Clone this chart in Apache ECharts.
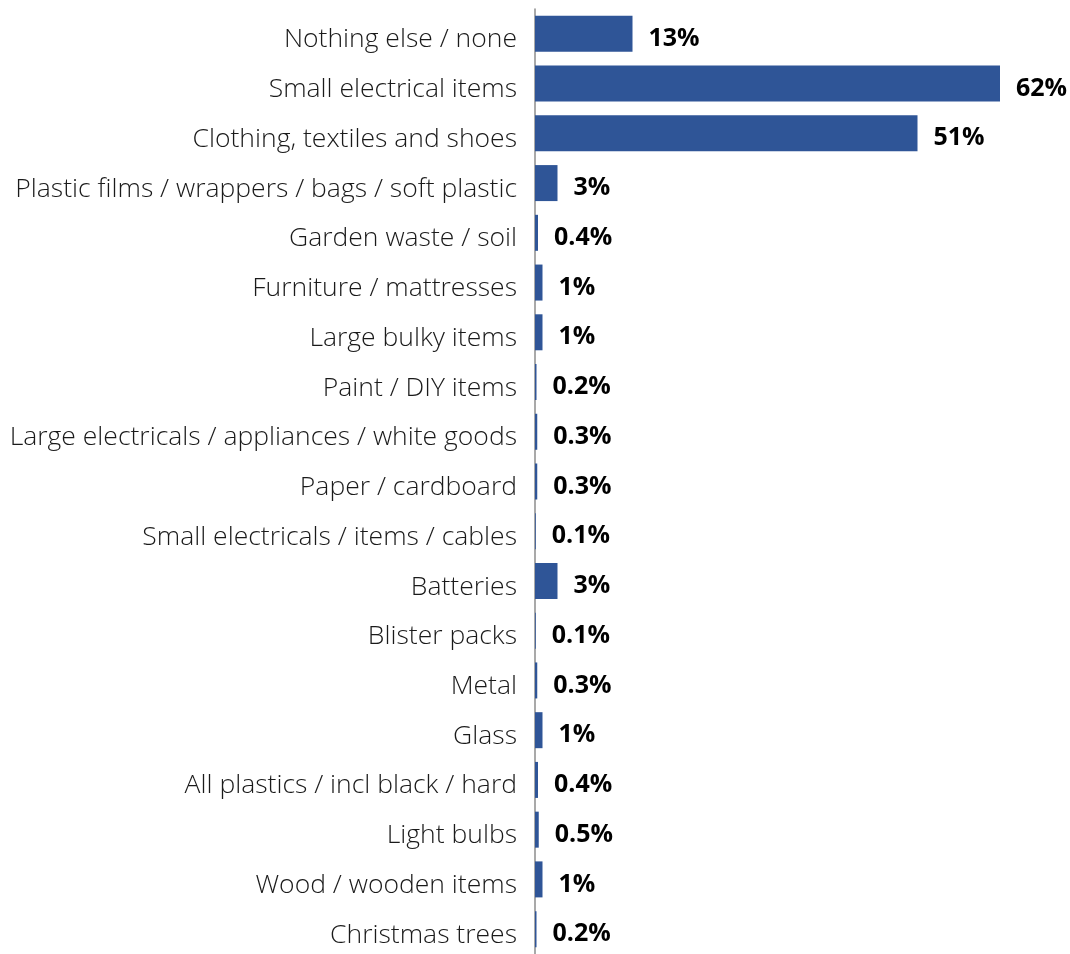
<!DOCTYPE html>
<html>
<head>
<meta charset="utf-8">
<script src="https://cdn.jsdelivr.net/npm/echarts@6/dist/echarts.min.js"></script>
<style>html,body{margin:0;padding:0;background:#fff;}#c{width:1070px;height:954px;}</style>
</head>
<body>
<div id="c"></div>
<script>
const categories = [
  "Nothing else / none",
  "Small electrical items",
  "Clothing, textiles and shoes",
  "Plastic films / wrappers / bags / soft plastic",
  "Garden waste / soil",
  "Furniture / mattresses",
  "Large bulky items",
  "Paint / DIY items",
  "Large electricals / appliances / white goods",
  "Paper / cardboard",
  "Small electricals / items / cables",
  "Batteries",
  "Blister packs",
  "Metal",
  "Glass",
  "All plastics / incl black / hard",
  "Light bulbs",
  "Wood / wooden items",
  "Christmas trees"
];
const values = [13, 62, 51, 3, 0.4, 1, 1, 0.2, 0.3, 0.3, 0.1, 3, 0.1, 0.3, 1, 0.4, 0.5, 1, 0.2];

const chart = echarts.init(document.getElementById('c'), null, {renderer: 'canvas'});
chart.setOption({
  animation: false,
  grid: {left: 535, right: 10, top: 9, height: 952, containLabel: false},
  xAxis: {
    type: 'value', min: 0, max: 70,
    show: false
  },
  yAxis: {
    type: 'category', data: categories, inverse: true,
    axisLine: {show: true, lineStyle: {color: '#8c8c8c', width: 1.5}},
    axisTick: {show: false},
    axisLabel: {
      margin: 18, color: '#1a1a1a', fontSize: 26.5, fontWeight: 300,
      fontFamily: 'Open Sans', verticalAlign: 'top', lineHeight: 12
    }
  },
  series: [{
    type: 'bar', data: values, barWidth: 36,
    itemStyle: {color: '#2F5597'},
    label: {
      show: true, position: 'right', distance: 16, offset: [0, 5],
      formatter: p => p.value + '%',
      fontFamily: 'Open Sans', fontWeight: 'bold', fontSize: 25, color: '#000'
    }
  }]
});
</script>
</body>
</html>
